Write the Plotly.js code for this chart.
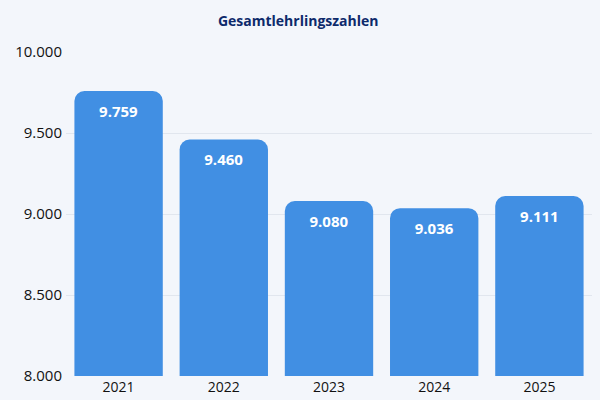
<!DOCTYPE html>
<html>
<head>
<meta charset="utf-8">
<script src="https://cdn.plot.ly/plotly-3.0.1.min.js"></script>
<style>
  html, body { margin: 0; padding: 0; background: #f3f6fb; }
  #chart { width: 600px; height: 400px; }
</style>
</head>
<body>
<div id="chart"></div>
<script>
    let years = ['2021', '2022', '2023', '2024', '2025'];
    let apprentices = [9759, 9460, 9080, 9036, 9111];
    let yTicks = [8000, 8500, 9000, 9500, 10000];

    let trace = {
        x: years,
        y: apprentices,
        type: 'bar',
        marker: { color: '#418fe3' },
        texttemplate: '%{y:,d}',
        textposition: 'inside',
        insidetextanchor: 'end',
        textangle: 0,
        constraintext: 'none',
        textfont: { family: 'Open Sans', size: 15, color: '#ffffff', weight: 'bold' },
        hoverinfo: 'none'
    }
    let data = [trace];

    // Layout of the chart
    let layout = {
        width: 600,
        height: 400,
        paper_bgcolor: '#f3f6fb',
        plot_bgcolor: '#f3f6fb',
        separators: ',.',
        bargap: 0.16,
        barcornerradius: 10,
        uniformtext: { mode: 'show', minsize: 15 },
        showlegend: false,
        title: {
            text: '<b>Gesamtlehrlingszahlen</b>',
            font: { family: 'Open Sans', size: 14, color: '#0d2a6b' },
            x: 0.497,
            xanchor: 'center',
            y: 0.948,
            yanchor: 'middle'
        },
        xaxis: {
            type: 'category',
            showgrid: false,
            zeroline: false,
            showline: false,
            ticks: '',
            ticklabelstandoff: 1,
            tickfont: { family: 'Open Sans', size: 14, color: '#111111' },
            fixedrange: true
        },
        yaxis: {
            range: [8000, 10000],
            tickvals: yTicks,
            tickformat: ',d',
            showgrid: true,
            gridcolor: '#e1e6ee',
            zeroline: false,
            showline: false,
            ticks: '',
            ticklabelstandoff: 3,
            tickfont: { family: 'Open Sans', size: 15, color: '#111111' },
            fixedrange: true
        },
        margin: {
            l: 66,
            r: 8,
            t: 52,
            b: 24
        }
    }

    // General chart configuration
    let config = {
        displayModeBar: false,
        staticPlot: true
    }

    let htmlElement = document.getElementById('chart');
    Plotly.newPlot(htmlElement, data, layout, config);
</script>
</body>
</html>
